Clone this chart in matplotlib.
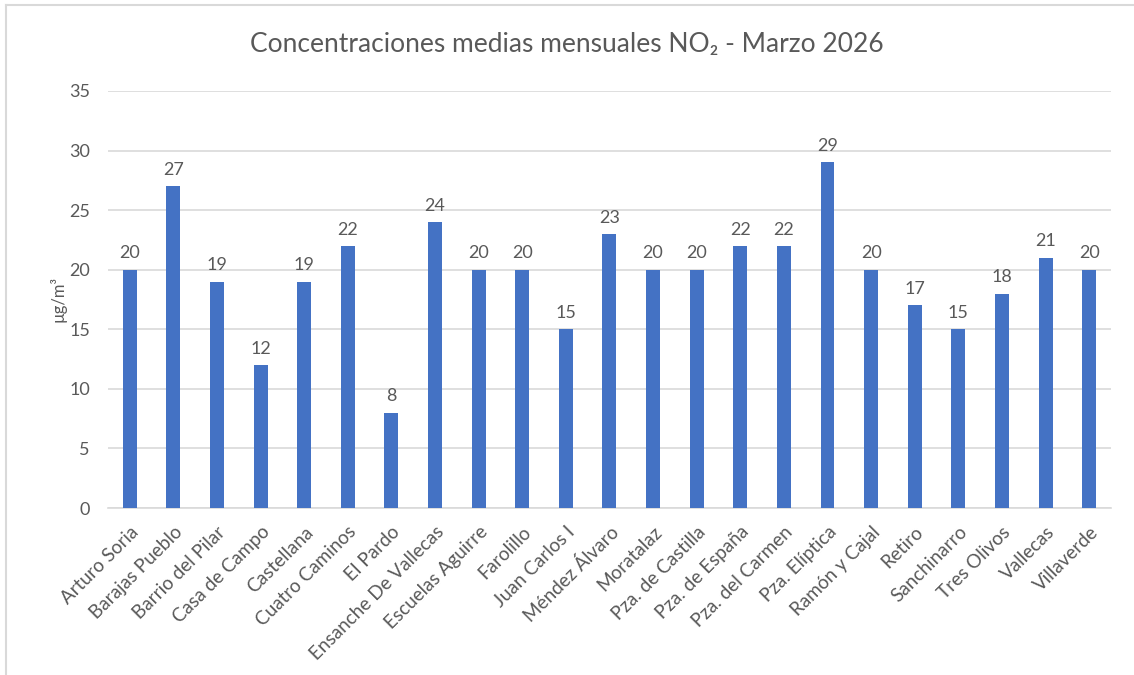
import numpy as np
import matplotlib.pyplot as plt

plt.rcParams['font.family'] = ['Lato', 'DejaVu Sans']

estaciones = ['Arturo Soria', 'Barajas Pueblo', 'Barrio del Pilar', 'Casa de Campo',
              'Castellana', 'Cuatro Caminos', 'El Pardo', 'Ensanche De Vallecas',
              'Escuelas Aguirre', 'Farolillo', 'Juan Carlos I', 'Méndez Álvaro',
              'Moratalaz', 'Pza. de Castilla', 'Pza. de España', 'Pza. del Carmen',
              'Pza. Elíptica', 'Ramón y Cajal', 'Retiro', 'Sanchinarro',
              'Tres Olivos', 'Vallecas', 'Villaverde']
no2 = [20, 27, 19, 12, 19, 22, 8, 24, 20, 20, 15, 23, 20, 20, 22, 22, 29, 20, 17, 15, 18, 21, 20]

gris = '#595959'
azul = '#4472C4'

fig = plt.figure(figsize=(11.34, 6.75), dpi=100)
ax = fig.add_axes([0.0952, 0.2474, 0.8845, 0.6178])

x = np.arange(len(estaciones))
barras = ax.bar(x, no2, width=0.32, color=azul, zorder=3)

for xi, v in zip(x, no2):
    ax.annotate(str(v), (xi, v), xytext=(0, 6), textcoords='offset points',
                ha='center', va='bottom', fontsize=13, color=gris)

ax.set_xlim(-0.5, len(estaciones) - 0.5)
ax.set_ylim(0, 35)
ax.set_yticks(range(0, 36, 5))
ax.grid(axis='y', color='#D9D9D9', linewidth=1.2, zorder=0)
ax.set_xticks(x)
ax.set_xticklabels(estaciones, rotation=45, ha='right', rotation_mode='anchor')
ax.tick_params(axis='both', length=0, labelsize=13, labelcolor=gris)
ax.tick_params(axis='x', labelsize=13.6, pad=11)
ax.tick_params(axis='y', pad=13)

for s in ['top', 'right', 'left']:
    ax.spines[s].set_visible(False)
ax.spines['bottom'].set_color('#D9D9D9')
ax.spines['bottom'].set_linewidth(1.2)

ax.set_ylabel('µg/m³', fontsize=12, color=gris, labelpad=2)
fig.suptitle('Concentraciones medias mensuales NO₂ - Marzo 2026', fontsize=19,
             color=gris, y=0.952)

# borde del gráfico (solo visible arriba e izquierda)
fig.add_artist(plt.Line2D([0.005, 0.005], [0, 0.992], color='#D9D9D9', linewidth=1.5))
fig.add_artist(plt.Line2D([0.005, 1], [0.992, 0.992], color='#D9D9D9', linewidth=1.5))

fig.savefig('out.png', dpi=100)
